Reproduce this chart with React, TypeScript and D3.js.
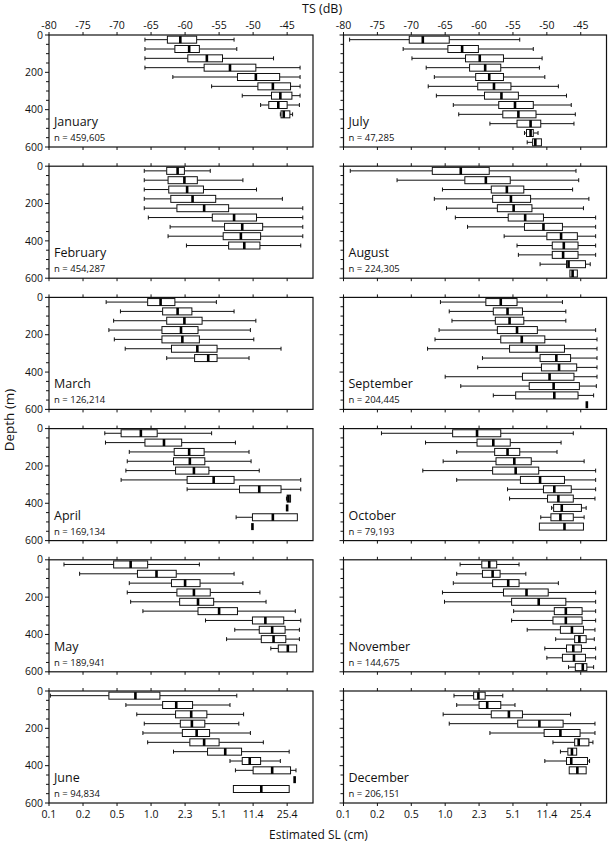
import React from "react";
import * as d3 from "d3";

type Stat = [number, number, number, number, number]; // whisker min, Q1, median, Q3, whisker max (TS dB)

const TS_TICKS = [-80, -75, -70, -65, -60, -55, -50, -45];
const SL_LABELS = ["0.1", "0.2", "0.5", "1.0", "2.3", "5.1", "11.4", "25.4"];
const DEPTH_LABELS = [0, 200, 400, 600];
const DEPTH_MINOR = d3.range(0, 601, 50);
const DEPTH_BINS = [25, 75, 125, 175, 225, 275, 325, 375, 425, 475, 525, 575];

const MONTHS = ["January", "February", "March", "April", "May", "June", "July", "August", "September", "October", "November", "December"];
const COUNTS = ["459,605", "454,287", "126,214", "169,134", "189,941", "94,834", "47,285", "224,305", "204,445", "79,193", "144,675", "206,151"];

const january: Stat[] = [
  [-65.9, -62.6, -60.7, -58.3, -52.8],
  [-65.9, -61.5, -59.4, -57.9, -52.4],
  [-65.9, -59.6, -56.8, -54.5, -47.0],
  [-65.9, -57.2, -53.4, -49.6, -43.1],
  [-61.8, -52.3, -49.6, -46.1, -43.1],
  [-56.1, -49.3, -47.1, -44.5, -43.1],
  [-51.6, -47.3, -46.0, -44.3, -43.1],
  [-48.9, -47.7, -46.3, -45.0, -43.2],
  [-46.0, -45.9, -45.5, -44.6, -44.2],
];
const february: Stat[] = [
  [-66.0, -62.7, -61.1, -60.1, -56.3],
  [-66.0, -62.5, -60.1, -58.2, -51.5],
  [-66.0, -62.4, -59.7, -57.3, -49.5],
  [-66.0, -62.1, -58.9, -55.5, -45.7],
  [-66.0, -61.2, -57.2, -53.6, -42.7],
  [-65.4, -56.0, -52.8, -49.5, -42.7],
  [-62.2, -54.2, -51.6, -48.6, -42.7],
  [-62.5, -54.4, -51.8, -48.9, -42.7],
  [-59.8, -53.6, -51.3, -49.0, -43.0],
];
const march: Stat[] = [
  [-71.6, -65.5, -63.6, -61.5, -55.4],
  [-69.5, -63.3, -61.1, -59.0, -52.8],
  [-70.5, -62.7, -60.1, -57.5, -49.6],
  [-71.2, -63.4, -60.6, -58.1, -50.4],
  [-70.4, -63.4, -60.4, -57.9, -49.9],
  [-68.8, -62.0, -58.2, -55.3, -45.9],
  [-62.7, -58.6, -56.6, -55.3, -50.6],
];
const april: Stat[] = [
  [-71.8, -69.4, -66.5, -64.1, -56.1],
  [-71.7, -65.9, -63.1, -60.5, -52.6],
  [-68.2, -61.6, -59.4, -57.2, -50.6],
  [-68.5, -61.7, -59.3, -57.1, -50.3],
  [-68.7, -61.4, -58.7, -56.5, -49.1],
  [-69.4, -59.7, -55.8, -52.8, -43.0],
  [-59.7, -52.0, -49.1, -45.9, -43.0],
  [-45.1, -45.0, -44.8, -44.5, -44.5],
  [-45.0, -45.0, -45.0, -45.0, -45.0],
  [-52.5, -50.1, -47.1, -43.5, -43.5],
  [-50.1, -50.1, -50.1, -50.1, -50.1],
];
const may: Stat[] = [
  [-77.8, -70.5, -68.0, -65.5, -57.9],
  [-75.5, -67.0, -64.2, -61.3, -52.8],
  [-68.2, -62.0, -60.0, -57.8, -51.5],
  [-68.5, -61.2, -58.7, -56.3, -49.0],
  [-68.0, -60.8, -58.1, -55.8, -48.1],
  [-66.2, -58.1, -55.0, -52.3, -43.8],
  [-57.0, -50.1, -48.2, -45.5, -43.0],
  [-52.7, -49.1, -47.2, -45.3, -43.2],
  [-53.9, -48.8, -47.0, -45.2, -43.2],
  [-47.4, -46.3, -44.9, -43.6, -43.6],
];
const june: Stat[] = [
  [-79.8, -71.2, -67.3, -63.7, -52.4],
  [-68.7, -63.3, -61.3, -58.9, -53.4],
  [-67.1, -61.4, -59.1, -56.8, -51.4],
  [-66.0, -60.7, -59.0, -57.1, -52.1],
  [-66.2, -60.4, -58.3, -56.4, -50.4],
  [-65.5, -59.3, -57.2, -55.0, -48.5],
  [-61.7, -56.7, -54.1, -51.7, -44.7],
  [-53.4, -51.6, -50.5, -48.9, -46.0],
  [-52.6, -50.0, -47.2, -44.5, -43.7],
  [-43.9, -43.9, -43.9, -43.9, -43.9],
  [-52.9, -52.9, -48.8, -44.7, -44.7],
];
const july: Stat[] = [
  [-79.1, -70.3, -68.3, -64.4, -54.0],
  [-71.2, -64.6, -62.5, -60.1, -52.0],
  [-69.9, -62.0, -59.9, -56.4, -50.7],
  [-67.8, -61.4, -59.1, -56.8, -51.1],
  [-66.6, -60.5, -58.5, -56.4, -50.3],
  [-67.5, -60.2, -57.8, -55.3, -48.3],
  [-66.3, -59.2, -56.7, -54.2, -47.1],
  [-63.8, -57.1, -54.7, -52.0, -46.4],
  [-63.0, -56.5, -54.2, -51.6, -45.8],
  [-58.4, -54.4, -52.4, -50.9, -46.0],
  [-53.3, -53.0, -52.4, -52.0, -51.3],
  [-52.9, -52.1, -51.7, -50.8, -50.8],
];
const august: Stat[] = [
  [-79.0, -66.9, -62.7, -58.5, -45.7],
  [-72.1, -62.1, -59.0, -55.4, -45.3],
  [-65.4, -58.2, -55.9, -53.4, -46.2],
  [-66.6, -58.0, -55.3, -52.4, -43.8],
  [-64.8, -57.3, -54.9, -52.2, -44.6],
  [-63.5, -55.7, -53.2, -50.5, -42.8],
  [-61.7, -53.3, -50.5, -47.7, -42.8],
  [-56.3, -50.0, -47.9, -45.5, -42.8],
  [-54.4, -49.2, -47.5, -45.4, -42.8],
  [-54.2, -49.2, -47.6, -45.4, -42.8],
  [-51.0, -47.1, -46.8, -44.3, -43.6],
  [-46.6, -46.6, -46.2, -45.5, -45.5],
];
const september: Stat[] = [
  [-65.7, -59.0, -56.8, -54.4, -47.7],
  [-64.4, -57.9, -55.8, -53.6, -47.2],
  [-64.0, -57.6, -55.5, -53.4, -47.2],
  [-65.9, -57.3, -54.4, -51.4, -42.8],
  [-66.5, -56.8, -53.7, -50.3, -42.6],
  [-67.6, -55.5, -51.5, -47.4, -42.6],
  [-59.5, -51.0, -48.6, -46.5, -42.6],
  [-60.2, -50.8, -48.2, -45.6, -42.6],
  [-65.0, -53.6, -49.6, -46.0, -42.6],
  [-62.7, -52.6, -49.0, -45.2, -42.7],
  [-57.9, -54.6, -48.9, -45.4, -43.1],
  [-44.1, -44.1, -44.1, -44.1, -44.1],
];
const october: Stat[] = [
  [-74.4, -63.9, -60.3, -56.8, -46.1],
  [-67.9, -60.3, -57.9, -55.4, -47.9],
  [-63.3, -57.7, -55.8, -54.0, -48.5],
  [-65.3, -57.5, -54.8, -52.3, -44.5],
  [-68.3, -58.0, -54.6, -51.2, -42.8],
  [-63.3, -53.9, -51.0, -47.4, -42.8],
  [-55.8, -50.5, -48.9, -46.4, -42.8],
  [-55.5, -49.9, -48.3, -46.1, -42.9],
  [-49.3, -49.0, -47.8, -44.9, -44.2],
  [-50.9, -49.4, -48.0, -46.1, -44.5],
  [-51.1, -51.1, -47.4, -44.6, -44.6],
];
const november: Stat[] = [
  [-62.8, -59.6, -58.5, -57.4, -54.1],
  [-63.3, -59.5, -58.0, -56.9, -53.1],
  [-63.8, -58.0, -55.7, -54.1, -48.3],
  [-65.4, -56.4, -53.0, -49.8, -42.8],
  [-65.1, -55.2, -51.2, -47.2, -42.8],
  [-54.9, -48.9, -47.2, -44.8, -42.8],
  [-55.2, -49.1, -47.2, -44.8, -42.8],
  [-52.9, -48.0, -46.3, -44.6, -42.9],
  [-48.7, -45.9, -45.2, -44.2, -43.0],
  [-50.3, -47.1, -46.1, -44.9, -42.8],
  [-50.0, -47.7, -46.0, -44.3, -42.8],
  [-46.8, -45.8, -44.7, -44.1, -43.1],
];
const december: Stat[] = [
  [-63.7, -60.8, -60.1, -59.1, -56.5],
  [-63.3, -60.0, -58.8, -56.8, -54.7],
  [-65.3, -58.2, -55.6, -53.6, -46.5],
  [-64.4, -54.3, -51.1, -47.6, -42.9],
  [-58.4, -50.4, -48.0, -45.1, -42.9],
  [-49.1, -45.9, -45.3, -43.8, -43.2],
  [-48.0, -46.9, -46.3, -45.6, -45.6],
  [-50.3, -47.1, -46.4, -44.0, -43.7],
  [-46.7, -46.7, -45.5, -44.2, -44.2],
];

const MONTH_STATS: Stat[][] = [january, february, march, april, may, june, july, august, september, october, november, december];

const FONT = "'Open Sans', 'DejaVu Sans', sans-serif";
const PANEL_TOP0 = 35;
const PANEL_STEP = 131.2;
const PANEL_H = 112;
const COLS = [
  { x0: 49, w: 264 },
  { x0: 343.5, w: 263 },
];
const TS_MAX = -41.2;
const BOX_H = 7;

function Panel({ idx }: { idx: number }) {
  const col = idx < 6 ? 0 : 1;
  const row = idx % 6;
  const { x0, w } = COLS[col];
  const top = PANEL_TOP0 + row * PANEL_STEP;
  const x = d3.scaleLinear().domain([-80, TS_MAX]).range([x0, x0 + w]);
  const y = d3.scaleLinear().domain([0, 600]).range([top, top + PANEL_H]);
  const stats = MONTH_STATS[idx];
  const stroke = "#111";
  return (
    <g>
      <rect x={x0} y={top} width={w} height={PANEL_H} fill="none" stroke={stroke} strokeWidth={1.2} />
      {TS_TICKS.map((t) => (
        <g key={t}>
          <line x1={x(t)} x2={x(t)} y1={top} y2={top - 3} stroke={stroke} strokeWidth={1} />
          <line x1={x(t)} x2={x(t)} y1={top + PANEL_H} y2={top + PANEL_H + 3} stroke={stroke} strokeWidth={1} />
        </g>
      ))}
      {DEPTH_MINOR.map((d) => (
        <line key={d} x1={x0} x2={x0 - (d % 200 === 0 ? 4 : 3)} y1={y(d)} y2={y(d)} stroke={stroke} strokeWidth={1} />
      ))}
      {col === 0 &&
        DEPTH_LABELS.map((d) => (
          <text key={d} x={x0 - 6} y={y(d)} dy="0.35em" textAnchor="end" fontSize={10.5} fontFamily={FONT} fill="#111">
            {d}
          </text>
        ))}
      {row === 0 &&
        TS_TICKS.map((t) => (
          <text key={t} x={x(t)} y={top - 6} textAnchor="middle" fontSize={10.5} fontFamily={FONT} fill="#111">
            {t}
          </text>
        ))}
      {row === 5 &&
        TS_TICKS.map((t, i) => (
          <text key={t} x={x(t)} y={top + PANEL_H + 15} textAnchor="middle" fontSize={10.5} fontFamily={FONT} fill="#111">
            {SL_LABELS[i]}
          </text>
        ))}
      {stats.map((s, i) => {
        const cy = y(DEPTH_BINS[i]);
        const [mn, q1, md, q3, mx] = s;
        const yt = cy - BOX_H / 2;
        return (
          <g key={i}>
            {q1 - mn > 0.05 && (
              <>
                <line x1={x(mn)} x2={x(q1)} y1={cy} y2={cy} stroke={stroke} strokeWidth={1} />
                <line x1={x(mn)} x2={x(mn)} y1={cy - 2} y2={cy + 2} stroke={stroke} strokeWidth={1} />
              </>
            )}
            {mx - q3 > 0.05 && (
              <>
                <line x1={x(q3)} x2={x(mx)} y1={cy} y2={cy} stroke={stroke} strokeWidth={1} />
                <line x1={x(mx)} x2={x(mx)} y1={cy - 2} y2={cy + 2} stroke={stroke} strokeWidth={1} />
              </>
            )}
            {q3 - q1 > 0.05 && (
              <rect x={x(q1)} y={yt} width={x(q3) - x(q1)} height={BOX_H} fill="#fff" stroke={stroke} strokeWidth={1} />
            )}
            <rect x={x(md) - 1.3} y={yt} width={2.6} height={BOX_H} fill="#000" />
          </g>
        );
      })}
      <text x={x0 + 5} y={top + 91} fontSize={12.5} fontFamily={FONT} fill="#111">
        {MONTHS[idx]}
      </text>
      <text x={x0 + 5} y={top + 106} fontSize={9.5} fontFamily={FONT} fill="#111">
        {`n = ${COUNTS[idx]}`}
      </text>
    </g>
  );
}

export default function App() {
  return (
    <svg width={610} height={845} style={{ position: "absolute", left: 0, top: 0, background: "#fff" }}>
      <rect x={0} y={0} width={610} height={845} fill="#fff" />
      {MONTHS.map((m, i) => (
        <Panel key={m} idx={i} />
      ))}
      <text x={302} y={13} fontSize={12.5} fontFamily={FONT} fill="#111">
        TS (dB)
      </text>
      <text x={269} y={839} fontSize={12} fontFamily={FONT} fill="#111">
        Estimated SL (cm)
      </text>
      <text transform="translate(14,420) rotate(-90)" textAnchor="middle" fontSize={13.5} fontFamily={FONT} fill="#111">
        Depth (m)
      </text>
    </svg>
  );
}
